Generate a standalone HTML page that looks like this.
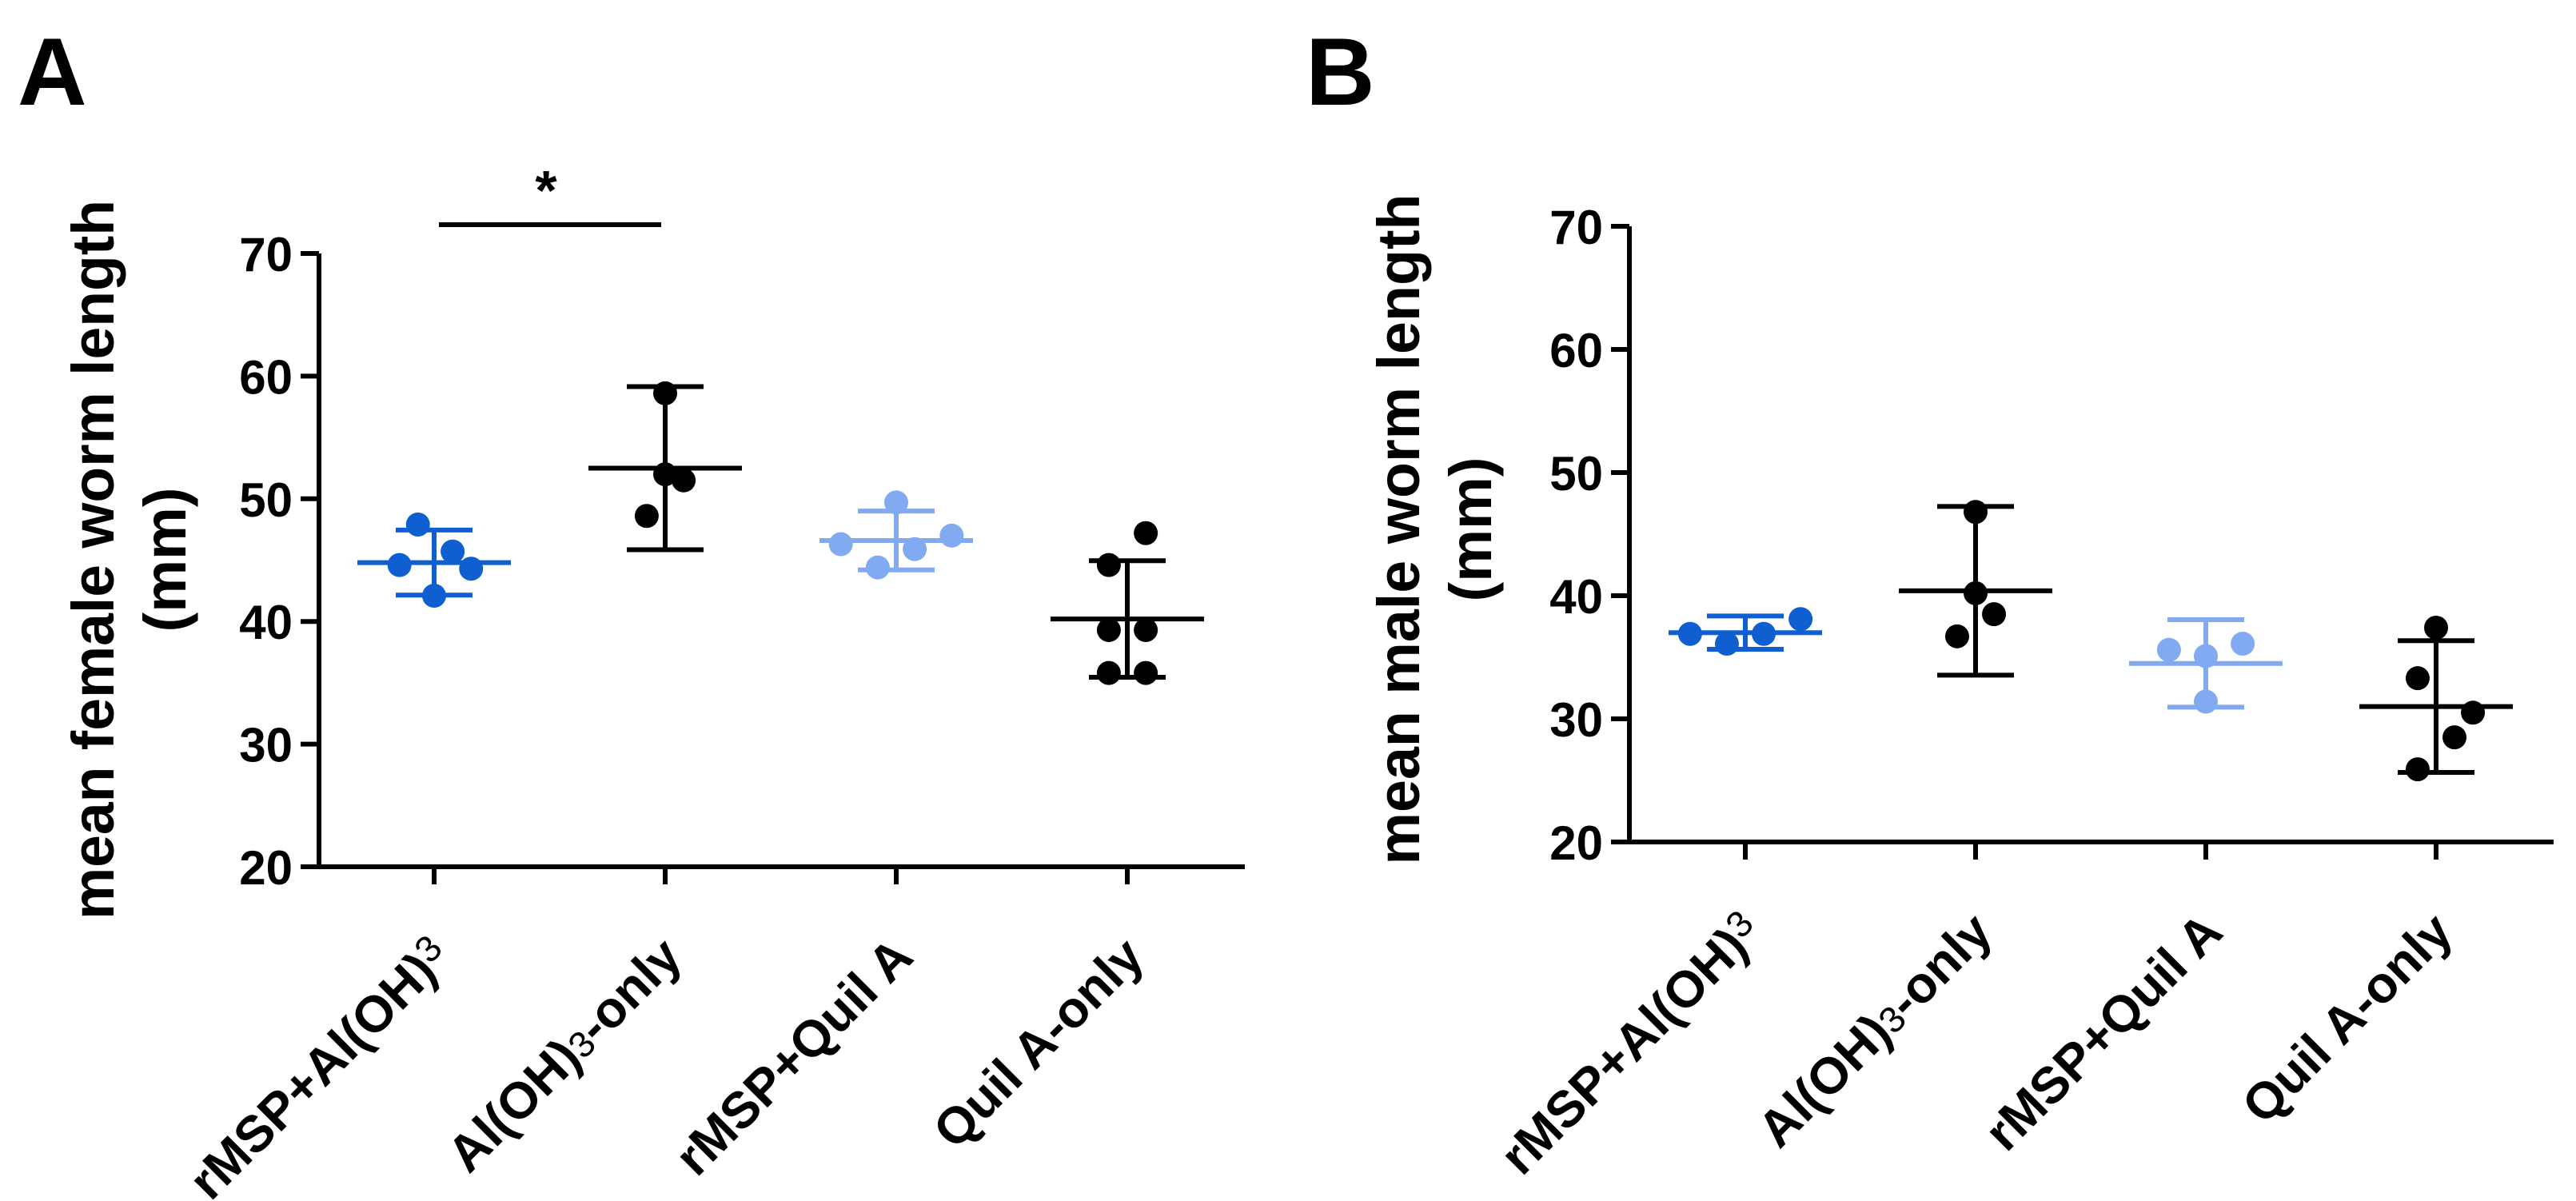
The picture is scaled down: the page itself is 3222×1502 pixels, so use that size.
<!DOCTYPE html>
<html><head><meta charset="utf-8"><style>
html,body{margin:0;padding:0;background:#fff}
svg{display:block;font-family:"Liberation Sans",Arial,sans-serif;font-weight:bold}
</style></head><body>
<svg id="fig" width="3222" height="1502" viewBox="0 0 3222 1502"></svg>
<script>
const categories = ["rMSP+Al(OH)3","Al(OH)3-only","rMSP+Quil A","Quil A-only"];
const yTicks = [20,30,40,50,60,70];
const femaleValues = [[47.9,45.7,44.6,44.3,42.1],[58.6,52.0,51.5,48.6],[49.7,47.0,46.3,45.9,44.4],[47.2,44.6,39.3,39.3,35.8,35.8]];
const femaleJitter = [[-0.07,0.08,-0.15,0.16,0],[0,0,0.08,-0.08],[0,0.24,-0.24,0.08,-0.08],[0.08,-0.08,-0.08,0.08,-0.08,0.08]];
const femaleMean = [44.8,52.5,46.6,40.2];
const femaleSD = [2.65,6.65,2.4,4.75];
const maleValues = [[36.9,36.1,36.9,38.1],[46.8,40.2,38.5,36.7],[35.6,35.1,36.1,31.4],[37.4,33.3,30.5,28.5,25.9]];
const maleJitter = [[-0.24,-0.08,0.08,0.24],[0,0,0.08,-0.08],[-0.16,0,0.16,0],[0,-0.08,0.16,0.08,-0.08]];
const maleMean = [37.0,40.4,34.5,31.0];
const maleSD = [1.35,6.85,3.55,5.35];
const colors = ["#0f5fd0","#000000","#82aaf0","#000000"];

const NS="http://www.w3.org/2000/svg";
const svg=document.getElementById('fig');
function el(t,a,p){const e=document.createElementNS(NS,t);for(const k in a)e.setAttribute(k,a[k]);(p||svg).appendChild(e);return e;}

function panel(cfg){
  const g=el('g',{});
  
  
  const y=v=>cfg.y20-(v-20)*(cfg.y20-cfg.y70)/50;
  const x=i=>cfg.x0+i*cfg.dx;
  const L=el('text',{x:cfg.letterX,y:131,'font-size':120},g);L.textContent=cfg.letter;
  
  const ax=el('path',{d:`M${cfg.ax} ${y(70)}V${cfg.y20}H${cfg.axEnd}`,stroke:'#000','stroke-width':6,fill:'none'},g);
  
  yTicks.forEach(t=>{
    const tk=el('line',{x1:cfg.ax-23,x2:cfg.ax,y1:y(t),y2:y(t),stroke:'#000','stroke-width':6},g);
    
    const tx=el('text',{x:cfg.ax-33,y:y(t)+22,'font-size':60,'text-anchor':'end'},g);
    tx.textContent=t;
    
  });
  const yt=el('text',{transform:`translate(${cfg.titleX},${cfg.titleY}) rotate(-90)`,'font-size':74,'text-anchor':'middle'},g);
  
  const t1=el('tspan',{x:0,y:0,textLength:cfg.titleLen,lengthAdjust:'spacingAndGlyphs'},yt);t1.textContent=cfg.title;
  const t2=el('tspan',{x:0,y:90},yt);t2.textContent='(mm)';
  categories.forEach((c,i)=>{
    const tk=el('line',{x1:x(i),x2:x(i),y1:cfg.y20,y2:cfg.y20+22,stroke:'#000','stroke-width':6},g);
    
    const lab=el('text',{transform:`translate(${x(i)+24},${cfg.y20+116}) rotate(-45)`,'font-size':64,'text-anchor':'end'},g);
    
    if(c==="rMSP+Al(OH)3"){const a=el('tspan',{},lab);a.textContent='rMSP+Al(OH)';const b=el('tspan',{'font-weight':'normal','font-size':46,dy:-16},lab);b.textContent='3';}
    else if(c==="Al(OH)3-only"){const a=el('tspan',{},lab);a.textContent='Al(OH)';const b=el('tspan',{'font-weight':'normal','font-size':46},lab);b.textContent='3';const d=el('tspan',{},lab);d.textContent='-only';}
    else lab.textContent=c;
    const col=colors[i];
    const m=cfg.mean[i],s=cfg.sd[i];
    const eg=el('g',{stroke:col,'stroke-width':6},g);
    
    el('line',{x1:x(i),x2:x(i),y1:y(m+s),y2:y(m-s)},eg);
    el('line',{x1:x(i)-48,x2:x(i)+48,y1:y(m+s),y2:y(m+s)},eg);
    el('line',{x1:x(i)-48,x2:x(i)+48,y1:y(m-s),y2:y(m-s)},eg);
    cfg.vals[i].forEach((v,j)=>{
      const p=el('circle',{cx:x(i)+cfg.jit[i][j]*cfg.dx,cy:y(v),r:15,fill:col},g);
      
    });
    const ml=el('line',{x1:x(i)-96,x2:x(i)+96,y1:y(m),y2:y(m),stroke:col,'stroke-width':6},g);
    
  });
  if(cfg.sig){
    const sl=el('line',{x1:549,x2:827,y1:281,y2:281,stroke:'#000','stroke-width':6},g);
    
    const st=el('text',{x:683,y:262,'font-size':70,'text-anchor':'middle'},g);st.textContent='*';
    
  }
}
panel({name:'panel-a',letter:'A',letterX:22,ax:399,axEnd:1557,y20:1084,y70:317,x0:543,dx:289,title:'mean female worm length',titleLen:900,titleX:142,titleY:700,vals:femaleValues,jit:femaleJitter,mean:femaleMean,sd:femaleSD,sig:true});
panel({name:'panel-b',letter:'B',letterX:1633,ax:2038,axEnd:3194,y20:1053,y70:283,x0:2183,dx:288,title:'mean male worm length',titleLen:839,titleX:1775,titleY:662,vals:maleValues,jit:maleJitter,mean:maleMean,sd:maleSD,sig:false});
</script>
</body></html>
